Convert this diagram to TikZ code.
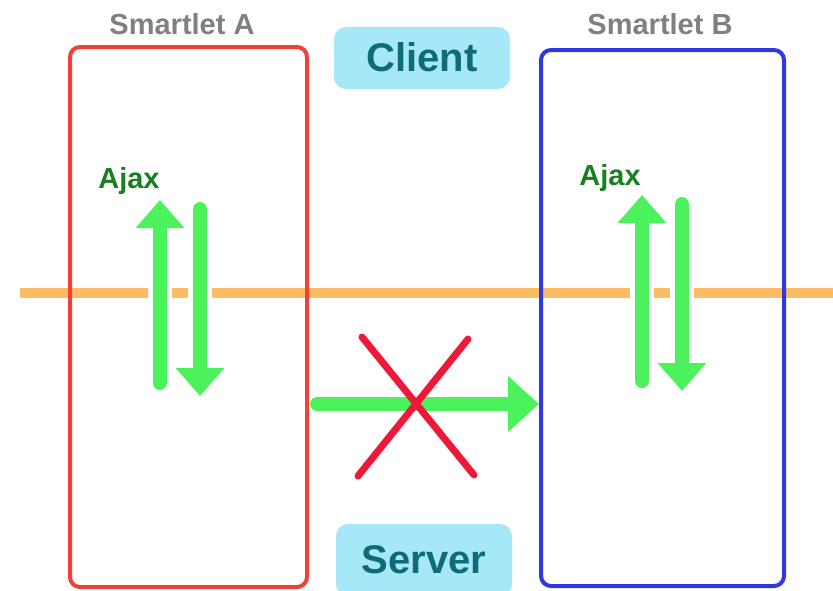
\documentclass[tikz,border=0pt]{standalone}
\usepackage{fontspec}
\setmainfont{Liberation Sans}
\usetikzlibrary{arrows.meta}
\definecolor{lineorange}{RGB}{252,188,98}
\definecolor{boxred}{RGB}{240,64,56}
\definecolor{boxblue}{RGB}{48,56,224}
\definecolor{flowgreen}{RGB}{76,242,92}
\definecolor{ajaxgreen}{RGB}{24,128,32}
\definecolor{titlegray}{RGB}{128,128,128}
\definecolor{tagcyan}{RGB}{166,232,248}
\definecolor{tagteal}{RGB}{14,108,122}
\definecolor{crossred}{RGB}{240,24,56}
\tikzset{
  smartlet/.style={draw, line width=2pt, rounded corners=5pt, minimum width=#1, inner sep=0pt},
  tag/.style={fill=tagcyan, rounded corners=6pt, minimum width=88pt, minimum height=31pt, inner sep=0pt,
    text=tagteal, font=\fontsize{20}{24}\bfseries\selectfont, text height=13.5pt, text depth=0pt},
  title/.style={inner sep=0pt, anchor=base, text=titlegray, font=\fontsize{14.5}{17}\bfseries\selectfont},
  ajax/.style={inner sep=0pt, anchor=base, text=ajaxgreen, font=\fontsize{14.5}{17}\bfseries\selectfont},
  flow/.style={flowgreen, line width=7pt, line cap=round, -{Triangle[width=23.5pt,length=14pt]}},
  gap/.style={white, line width=12pt},
  cross/.style={crossred, line width=3.5pt, line cap=round}
}
\begin{document}
\begin{tikzpicture}[x=0.5pt,y=-0.5pt]
\clip (0,0) rectangle (833,590);
\fill[white] (0,0) rectangle (833,590);

% client / server border
\coordinate (l1) at (20,293);
\coordinate (l2) at (833,293);
\draw[lineorange, line width=5pt] (l1) -- (l2);

% ajax calls
\coordinate (a1) at (160,383);
\coordinate (a2) at (160,200);
\coordinate (a3) at (200,209);
\coordinate (a4) at (200,396);
\coordinate (b1) at (642,381);
\coordinate (b2) at (642,195);
\coordinate (b3) at (682,204);
\coordinate (b4) at (682,391);
\draw[gap] (a1) -- (a2);
\draw[gap] (a3) -- (a4);
\draw[gap] (b1) -- (b2);
\draw[gap] (b3) -- (b4);

% smartlets
\node[smartlet=118.5pt, minimum height=270pt, boxred] (smA) at (188.5,317) {};
\node[smartlet=121.5pt, minimum height=268pt, boxblue] (smB) at (662.5,318) {};
\node[title] (tA) at (182,34) {Smartlet A};
\node[title] (tB) at (660,34) {Smartlet B};

\draw[flow] (a1) -- (a2);
\draw[flow] (a3) -- (a4);
\draw[flow] (b1) -- (b2);
\draw[flow] (b3) -- (b4);
\node[ajax] (jA) at (129,188) {Ajax};
\node[ajax] (jB) at (610,185) {Ajax};

% no direct call from A to B
\coordinate (h1) at (317,404);
\draw[flow, -{Triangle[width=27pt,length=15.5pt]}] (h1) -- (smB.west |- h1);
\coordinate (x1) at (362,337);
\coordinate (x2) at (474,475);
\coordinate (x3) at (358,476);
\coordinate (x4) at (468,339);
\draw[cross] (x1) -- (x2);
\draw[cross] (x3) -- (x4);

\node[tag] (client) at (422,58) {Client};
\node[tag, minimum height=36pt] (server) at (424,560) {Server};
\end{tikzpicture}
\end{document}
